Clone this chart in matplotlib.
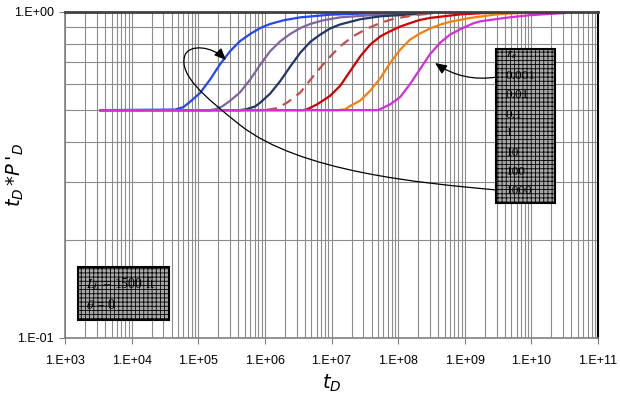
import numpy as np
import matplotlib
matplotlib.use('Agg')
import matplotlib.pyplot as plt
from matplotlib.patches import Rectangle, FancyArrowPatch
from matplotlib.path import Path
from matplotlib.ticker import LogLocator, FuncFormatter, NullFormatter

plt.rcParams['hatch.linewidth'] = 0.6
plt.rcParams['font.family'] = ['Liberation Sans', 'DejaVu Sans']

# ---------------- data ----------------
re_labels = ['0.001', '0.01', '0.1', '1', '10', '100', '1000']

td_re1000 = [3.4e3, 4.5e4, 6.0e4, 7.5e4, 1.06e5, 1.5e5, 2.1e5, 3.0e5, 4.2e5, 6.0e5,
             8.5e5, 1.2e6, 1.9e6, 3.4e6, 9.5e6, 5.4e7, 3.2e8]
pd_re1000 = [0.5, 0.502, 0.511, 0.530, 0.564, 0.620, 0.689, 0.758, 0.813, 0.856,
             0.893, 0.919, 0.943, 0.963, 0.981, 0.993, 0.998]

td_re100 = [3.4e3, 1.5e5, 1.79e5, 2.28e5, 3.0e5, 4.2e5, 6.0e5, 8.5e5, 1.2e6, 1.7e6,
            2.4e6, 3.4e6, 4.8e6, 7.5e6, 1.35e7, 5.4e7, 3.2e8]
pd_re100 = [0.5, 0.5, 0.503, 0.513, 0.534, 0.566, 0.620, 0.689, 0.758, 0.813,
            0.856, 0.893, 0.919, 0.943, 0.963, 0.982, 0.996]

td_re10 = [3.4e3, 4.2e5, 5.22e5, 7.13e5, 8.5e5, 1.2e6, 1.7e6, 2.4e6, 3.4e6, 4.8e6,
           6.75e6, 9.5e6, 1.35e7, 2.7e7, 5.4e7, 3.2e8]
pd_re10 = [0.5, 0.5, 0.503, 0.513, 0.527, 0.562, 0.614, 0.680, 0.750, 0.810,
           0.852, 0.890, 0.916, 0.950, 0.970, 0.992]

td_re1 = [3.4e3, 1.0e6, 1.52e6, 2.15e6, 3.4e6, 5.3e6, 8.6e6, 1.35e7, 2.1e7, 3.4e7,
          5.4e7, 8.4e7, 1.7e8, 3.2e8]
pd_re1 = [0.5, 0.5, 0.507, 0.527, 0.566, 0.635, 0.714, 0.785, 0.842, 0.889,
          0.925, 0.952, 0.977, 0.990]

td_re01 = [3.4e3, 3.75e6, 4.3e6, 6.1e6, 9.5e6, 1.35e7, 1.9e7, 2.7e7, 3.8e7, 5.4e7,
           7.6e7, 1.07e8, 1.5e8, 2.1e8, 3.0e8, 8.5e8, 2.4e9]
pd_re01 = [0.5, 0.5, 0.503, 0.521, 0.553, 0.594, 0.658, 0.731, 0.794, 0.842,
           0.873, 0.902, 0.924, 0.945, 0.959, 0.983, 0.995]

td_re001 = [3.4e3, 1.26e7, 1.6e7, 1.9e7, 2.7e7, 3.8e7, 5.4e7, 7.6e7, 1.07e8, 1.5e8,
            2.1e8, 3.0e8, 4.3e8, 6.0e8, 1.2e9, 3.06e9, 6.8e9]
pd_re001 = [0.5, 0.5, 0.503, 0.515, 0.535, 0.573, 0.627, 0.698, 0.766, 0.822,
            0.858, 0.890, 0.915, 0.933, 0.959, 0.984, 0.993]

td_re0001 = [3.4e3, 5.0e7, 7.6e7, 1.07e8, 1.5e8, 2.1e8, 3.0e8, 4.3e8, 6.0e8, 8.5e8,
             1.34e9, 1.7e9, 4.33e9, 9.6e9, 3.2e10]
pd_re0001 = [0.5, 0.5, 0.521, 0.548, 0.600, 0.665, 0.742, 0.806, 0.852, 0.885,
             0.923, 0.936, 0.961, 0.978, 0.993]

# ---------------- figure ----------------
W, H = 620, 395
fig = plt.figure(figsize=(W / 100, H / 100), dpi=100)
L, R, T, B = 65, 598, 12, 338
ax = fig.add_axes([L / W, (H - B) / H, (R - L) / W, (B - T) / H])


def px(x, y):
    """pixel position in the picture -> axes fraction (for annotations only)"""
    return ((x - L) / (R - L), (B - y) / (B - T))


ax.set_xscale('log')
ax.set_yscale('log')
ax.set_xlim(1e3, 1e11)
ax.set_ylim(0.1, 1.0)

ax.xaxis.set_major_locator(LogLocator(base=10, numticks=30))
ax.xaxis.set_minor_locator(LogLocator(base=10, subs=np.arange(2, 10), numticks=200))
ax.yaxis.set_major_locator(LogLocator(base=10, numticks=30))
ax.yaxis.set_minor_locator(LogLocator(base=10, subs=np.arange(2, 10), numticks=200))

fmt = FuncFormatter(lambda v, p: "1.E%+03d" % int(round(np.log10(v))))
ax.xaxis.set_major_formatter(fmt)
ax.yaxis.set_major_formatter(fmt)
ax.xaxis.set_minor_formatter(NullFormatter())
ax.yaxis.set_minor_formatter(NullFormatter())

ax.grid(which='both', color='#8c8c8c', lw=0.8)
ax.set_axisbelow(True)
ax.tick_params(which='major', length=4, color='#808080', labelsize=9, pad=8)
ax.tick_params(which='minor', length=0)
ax.tick_params(axis='y', pad=4)

for s in ['left', 'bottom']:
    ax.spines[s].set_color('#808080')
    ax.spines[s].set_linewidth(1.2)
ax.spines['top'].set_color('#404040')
ax.spines['top'].set_linewidth(2.0)
ax.spines['right'].set_color('#000000')
ax.spines['right'].set_linewidth(1.5)

lw = 1.6
ax.plot(td_re1000, pd_re1000, color='#2446f5', lw=lw)
ax.plot(td_re100, pd_re100, color='#8064a2', lw=lw)
ax.plot(td_re10, pd_re10, color='#1f3864', lw=lw)
ax.plot(td_re1, pd_re1, color='#c0504d', lw=lw, dashes=(4.5, 3))
ax.plot(td_re01, pd_re01, color='#d00000', lw=lw)
ax.plot(td_re001, pd_re001, color='#f4800f', lw=lw)
ax.plot(td_re0001, pd_re0001, color='#d22fd8', lw=lw)

ax.set_xlabel(r'$t_D$', fontsize=14, labelpad=4)
ax.set_ylabel(r"$t_D\,{*}P\,'_D$", fontsize=14)
ax.yaxis.set_label_coords(-0.073, 0.5)

# ---------------- legend-like box (r_e values) ----------------
x0, y0 = px(496, 203)
x1, y1 = px(555, 49)
ax.add_patch(Rectangle((x0, y0), x1 - x0, y1 - y0, transform=ax.transAxes,
                       facecolor='#a8a8a8', edgecolor='black', hatch='++++',
                       lw=1.5, zorder=5))
tx = 506
ax.text(*px(tx, 55), r'$r_e$', transform=ax.transAxes, fontsize=9.5,
        va='center', ha='left', math_fontfamily='stix', zorder=6)
for lab, yy in zip(re_labels, [76, 95.5, 114.5, 133.5, 153, 172, 191]):
    ax.text(*px(tx, yy), lab, transform=ax.transAxes, fontsize=9.5,
            family='Liberation Serif', va='center', ha='left', zorder=6)

# ---------------- parameter box ----------------
x0, y0 = px(78, 320)
x1, y1 = px(169, 267)
ax.add_patch(Rectangle((x0, y0), x1 - x0, y1 - y0, transform=ax.transAxes,
                       facecolor='#a8a8a8', edgecolor='black', hatch='++++',
                       lw=1.5, zorder=5))
ax.text(*px(86, 284), r'$L_h$ = 1500 ft', transform=ax.transAxes, fontsize=10,
        family='Liberation Serif', va='center', ha='left',
        math_fontfamily='stix', zorder=6)
ax.text(*px(86, 305), r'$\theta$ = 0', transform=ax.transAxes, fontsize=10,
        family='Liberation Serif', va='center', ha='left',
        math_fontfamily='stix', zorder=6)

# ---------------- arrows ----------------
ax.annotate('', xy=px(435, 63), xytext=px(497, 77),
            xycoords='axes fraction', textcoords='axes fraction',
            arrowprops=dict(arrowstyle='-|>,head_length=0.7,head_width=0.3',
                            connectionstyle='arc3,rad=-0.2', color='black',
                            lw=0.9, mutation_scale=10, shrinkA=0, shrinkB=0),
            zorder=7)

verts = [px(497, 190),
         px(420, 183), px(300, 172), px(240, 125),
         px(205, 97), px(178, 75), px(185, 55),
         px(190, 44), px(212, 46), px(226, 60)]
codes = [Path.MOVETO] + [Path.CURVE4] * 9
loop = FancyArrowPatch(path=Path(verts, codes),
                       arrowstyle='-|>,head_length=0.7,head_width=0.3',
                       mutation_scale=10, color='black', lw=0.9,
                       transform=ax.transAxes, zorder=7)
ax.add_patch(loop)

fig.savefig('out.png', dpi=100)
